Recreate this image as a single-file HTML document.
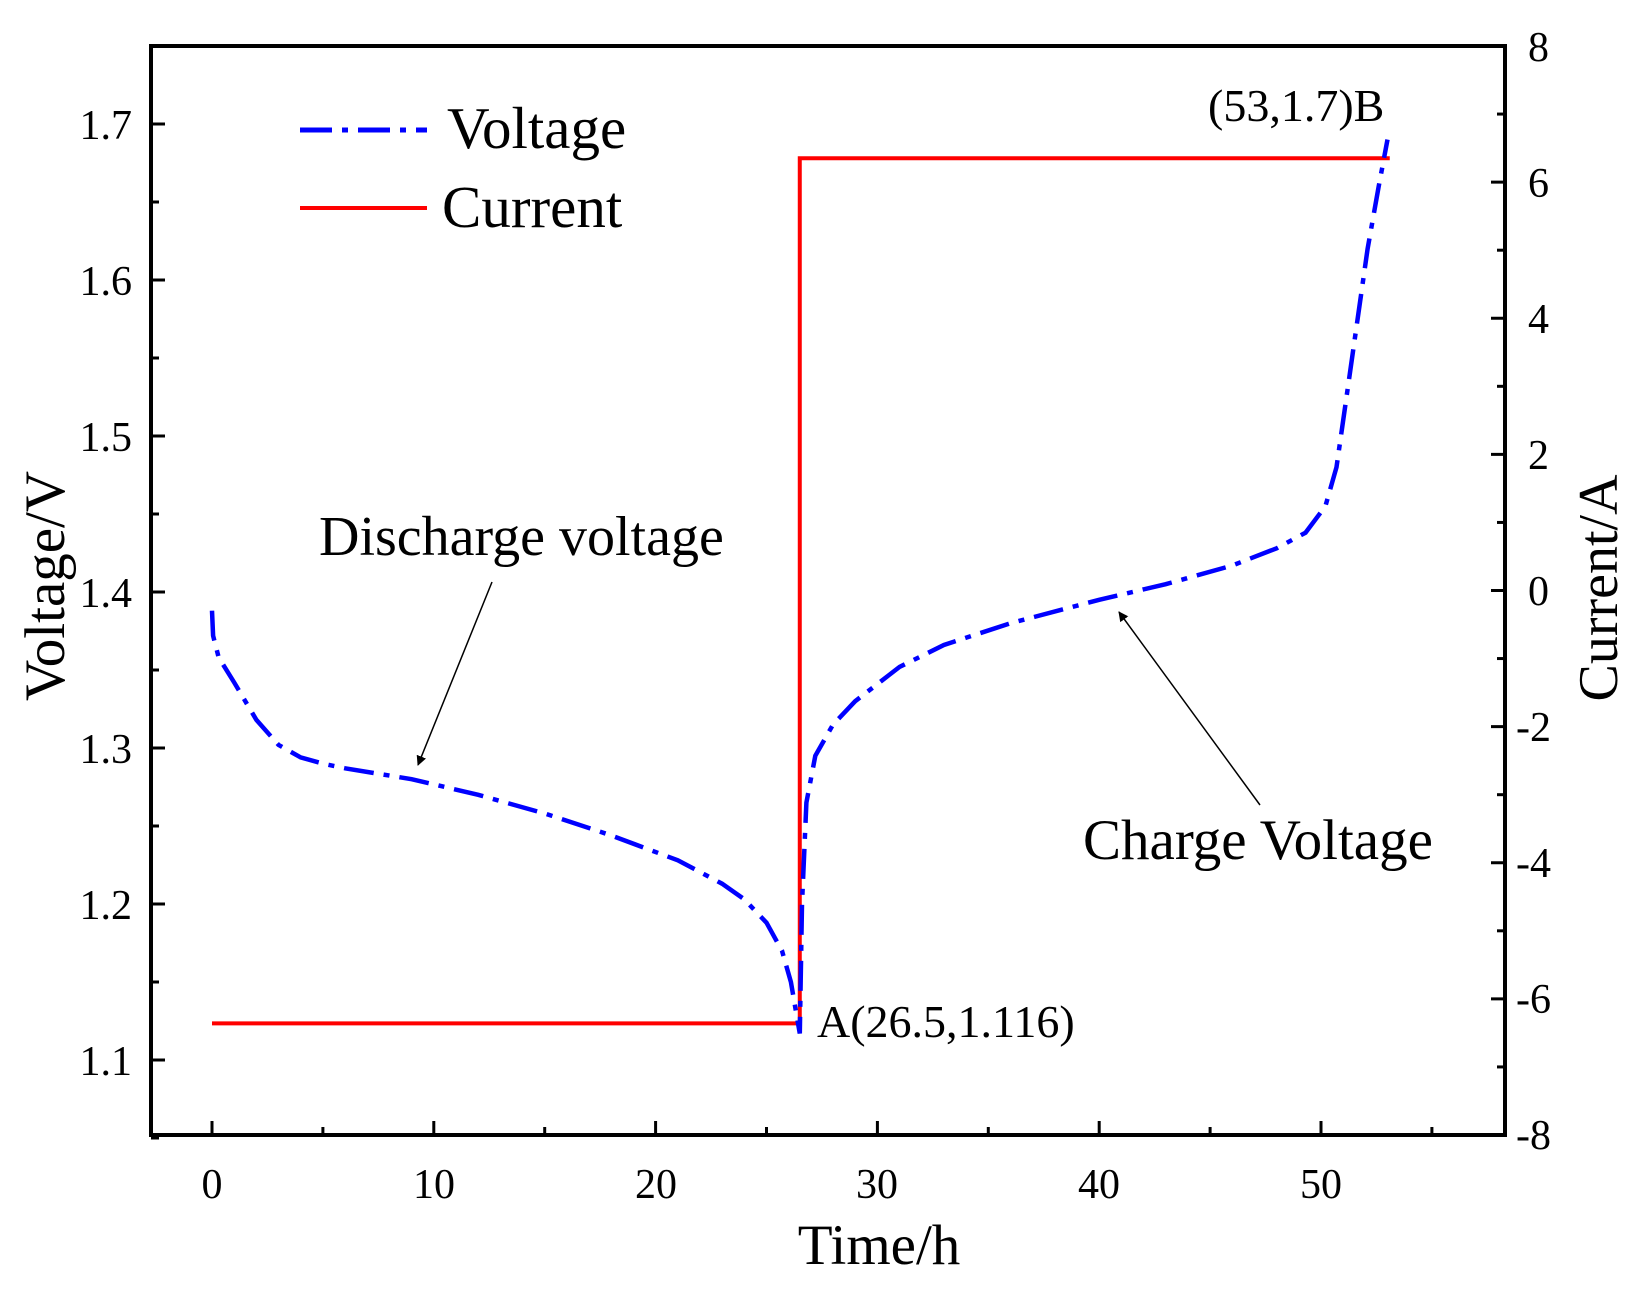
<!DOCTYPE html>
<html><head><meta charset="utf-8"><style>
html,body{margin:0;padding:0;background:#fff;}
svg{display:block;}
text{font-family:"Liberation Serif",serif;fill:#000;}
</style></head><body>
<svg id="s" width="1637" height="1297" viewBox="0 0 1637 1297" xmlns="http://www.w3.org/2000/svg">
<g id="ticks" stroke="#000" stroke-width="3"></g>
<path id="cur" fill="none" stroke="#ff0000" stroke-width="4"/>
<path id="volt" fill="none" stroke="#0000ff" stroke-width="4.5" stroke-dasharray="30,10,6,10"/>
<rect x="151" y="46" width="1354" height="1089" fill="none" stroke="#000" stroke-width="4"/>
<g font-size="42" text-anchor="middle">
<text x="212" y="1198">0</text><text x="434" y="1198">10</text><text x="656" y="1198">20</text>
<text x="877" y="1198">30</text><text x="1099" y="1198">40</text><text x="1321" y="1198">50</text>
</g>
<g font-size="42" text-anchor="end">
<text x="132" y="139">1.7</text><text x="132" y="295">1.6</text><text x="132" y="451">1.5</text>
<text x="132" y="607">1.4</text><text x="132" y="763">1.3</text><text x="132" y="919">1.2</text>
<text x="132" y="1075">1.1</text>
</g>
<g font-size="42" text-anchor="start">
<text x="1528" y="61">8</text><text x="1528" y="197">6</text><text x="1528" y="333">4</text>
<text x="1528" y="469">2</text><text x="1528" y="605">0</text><text x="1516" y="741">-2</text>
<text x="1516" y="877">-4</text><text x="1516" y="1013">-6</text><text x="1516" y="1149">-8</text>
</g>
<text x="879" y="1264" font-size="57" text-anchor="middle">Time/h</text>
<text transform="translate(64,586) rotate(-90)" font-size="57" text-anchor="middle">Voltage/V</text>
<text transform="translate(1617,588) rotate(-90)" font-size="56" text-anchor="middle">Current/A</text>
<line x1="300" y1="130" x2="427" y2="130" stroke="#0000ff" stroke-width="5" stroke-dasharray="32,10,6,10"/>
<line x1="300" y1="208" x2="427" y2="208" stroke="#ff0000" stroke-width="4"/>
<text x="447" y="148" font-size="59">Voltage</text>
<text x="442" y="227" font-size="59">Current</text>
<text x="319" y="555" font-size="56">Discharge voltage</text>
<text x="1083" y="859" font-size="57">Charge Voltage</text>
<text x="817" y="1037" font-size="46">A(26.5,1.116)</text>
<text x="1208" y="121" font-size="46">(53,1.7)B</text>
<defs><marker id="ar" markerWidth="10" markerHeight="10" refX="9" refY="5" orient="auto" markerUnits="userSpaceOnUse" viewBox="0 0 10 10"><path d="M0,0 L10,5 L0,10 z" fill="#000"/></marker></defs>
<line x1="492" y1="582" x2="418" y2="765" stroke="#000" stroke-width="1.5" marker-end="url(#ar)"/>
<line x1="1260" y1="805" x2="1119" y2="612" stroke="#000" stroke-width="1.5" marker-end="url(#ar)"/>
</svg>
<script>
const X=t=>212+t*22.18, V=v=>124+(1.7-v)*1560, C=c=>46+(8-c)*1089/16;
let g=document.getElementById('ticks'),h='';
for(let t=0;t<=55;t+=5){let L=t%10==0?14:8;h+=`<line x1="${X(t)}" y1="1135" x2="${X(t)}" y2="${1135-L}"/>`;}
for(let i=0;i<=13;i++){let v=1.05+i*0.05;let L=i%2==1?14:8;h+=`<line x1="151" y1="${V(v)}" x2="${151+L}" y2="${V(v)}"/>`;}
for(let c=-8;c<=8;c++){let L=c%2==0?14:8;h+=`<line x1="1505" y1="${C(c)}" x2="${1505-L}" y2="${C(c)}"/>`;}
g.innerHTML=h;
document.getElementById('cur').setAttribute('d',`M${X(0)},${C(-6.36)} L${X(26.5)},${C(-6.36)} L${X(26.5)},${C(6.35)} L${X(53.1)},${C(6.35)}`);
const p=[[0,1.388],[0.05,1.372],[0.3,1.358],[1,1.342],[2,1.318],[3,1.302],[4,1.294],[5,1.29],[6,1.287],[9,1.28],[12,1.27],[15,1.258],[18,1.244],[21,1.228],[23,1.213],[24,1.203],[25,1.188],[25.7,1.17],[26.1,1.15],[26.4,1.125],[26.5,1.117],[26.6,1.2],[26.8,1.265],[27.2,1.295],[28,1.315],[29,1.33],[31,1.352],[33,1.366],[36,1.38],[40,1.395],[43,1.405],[46,1.417],[48,1.428],[49.3,1.438],[50.2,1.455],[50.7,1.48],[51.1,1.52],[51.6,1.57],[52.1,1.62],[52.6,1.66],[53,1.69]];
document.getElementById('volt').setAttribute('d','M'+p.map(q=>X(q[0]).toFixed(1)+','+V(q[1]).toFixed(1)).join(' L'));
</script>
</body></html>
